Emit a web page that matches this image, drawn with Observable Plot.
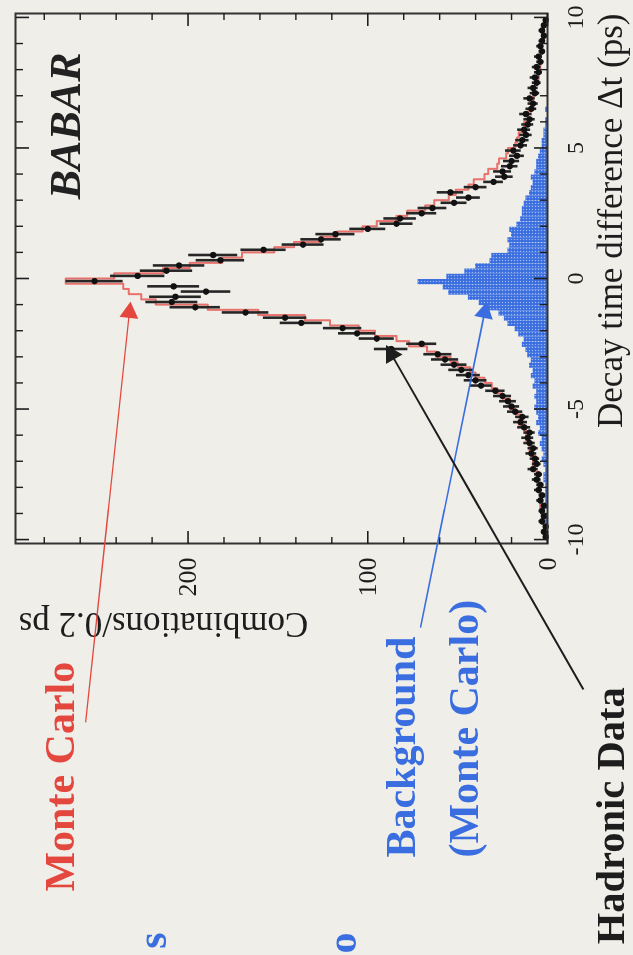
<!DOCTYPE html>
<html>
<head>
<meta charset="utf-8">
<script src="https://cdn.jsdelivr.net/npm/d3@7"></script>
<script src="https://cdn.jsdelivr.net/npm/@observablehq/plot@0.6"></script>
<style>
  html, body { margin: 0; padding: 0; width: 633px; height: 955px; overflow: hidden; background: #efeee9; }
  #rot { position: absolute; left: 0; top: 0; width: 955px; height: 633px;
         transform-origin: 0 0; transform: translateY(955px) rotate(-90deg); }
  #rot svg { display: block; filter: blur(0.65px); }
</style>
</head>
<body>
<div id="rot"></div>
<script>
// ---- Data ----
// Bin centres of Δt (ps), 0.2 ps bins from -10 to 10
const binCenters = d3.range(100).map(i => Math.round((-9.9 + 0.2 * i) * 10) / 10);

// Hadronic data: combinations per 0.2 ps
const dataCounts = [
  1,2,1,3,2,3,2,4,3,5,
  4,6,5,8,6,7,9,8,10,11,
  10,13,15,14,18,20,22,25,29,37,
  40,44,48,52,57,61,87,70,95,106,
  114,137,146,168,196,209,207,190,208,252,
  228,212,205,182,186,158,136,126,118,100,
  84,82,70,64,52,44,54,40,30,24,
  25,21,20,17,19,15,14,12,13,11,
  10,12,9,8,10,7,8,6,7,5,
  6,4,5,3,4,3,2,3,2,1
];

// Monte Carlo (signal + background)
const mcCounts = [
  1,2,2,3,2,3,4,3,4,5,
  5,6,5,7,8,7,9,10,10,12,
  12,13,16,15,18,21,21,25,28,31,
  35,40,43,50,54,62,67,77,84,96,
  105,121,135,161,189,218,226,233,236,268,
  241,214,199,181,170,152,141,126,117,103,
  95,84,78,68,63,55,51,44,41,35,
  33,28,27,23,22,18,17,16,13,13,
  11,11,9,9,8,7,7,6,5,5,
  4,4,4,3,3,3,2,2,2,2
];

// Background (Monte Carlo)
const bgCounts = [
  0,1,0,1,1,0,1,1,2,1,
  1,2,2,1,2,3,2,3,4,3,
  5,4,6,5,6,7,6,7,6,8,
  7,9,8,10,9,11,12,14,13,16,
  18,22,24,27,33,38,44,55,58,72,
  56,46,40,32,31,22,21,22,20,21,
  17,15,14,14,13,12,10,9,8,9,
  7,6,6,5,4,3,3,2,2,1,
  1,0,1,0,0,0,0,0,0,0,
  0,0,0,0,0,0,0,0,0,0
];

// Tick values / labels
const dtMajorTicks = [-10, -5, 0, 5, 10];
const dtMinorTicks = [-9,-8,-7,-6,-4,-3,-2,-1,1,2,3,4,6,7,8,9];
const countMajorTicks = [0, 100, 200];
const countMinorTicks = [20,40,60,80,120,140,160,180,220,240,260,280];

const xTitle = "Decay time difference Δt (ps)";
const yTitle = "Combinations/0.2 ps";

// ---- Build table ----
const bins = binCenters.map((t, i) => ({t, n: dataCounts[i], mc: mcCounts[i], bg: bgCounts[i]}));
const halfBin = 0.1;

// ---- Layout / annotation configuration ----
const RED = "#e4473d", BLUE = "#3a6ee0", INK = "#1d1d1d";
const W = 955, H = 633, mL = 411, mR = 14, mT = 15, mB = 86;
const xDomain = [-10.15, 10.15], yDomain = [0, 296];

const labelsStart = [
  {text: "Monte Carlo", t: -23.48, c: 263.2, color: RED},
  {text: "Background\n(Monte Carlo)", t: -22.18, c: 38.4, color: BLUE}
];
const labelsEnd = [
  {text: "s", t: -25.05, c: 212.0, color: BLUE},
  {text: "o", t: -25.05, c: 106.8, color: BLUE}
];
const labelData = [{text: "Hadronic Data", t: -15.66, c: -42.6, color: INK}];
const arrows = [
  {t1: -17.0, c1: 257, t2: -1.30, c2: 232.6, color: RED, w: 1.3},
  {t1: -13.37, c1: 70.7, t2: -1.30, c2: 35, color: BLUE, w: 1.6},
  {t1: -15.74, c1: -20, t2: -2.91, c2: 86.8, color: INK, w: 2}
];
// arrow head orientation in screen space
const sx = Plot.scale({x: {domain: xDomain, range: [mL, W - mR]}});
const sy = Plot.scale({y: {domain: yDomain, range: [H - mB, mT]}});
arrows.forEach(a => {
  const dx = sx.apply(a.t2) - sx.apply(a.t1);
  const dy = sy.apply(a.c2) - sy.apply(a.c1);
  a.angle = Math.atan2(dx, -dy) * 180 / Math.PI;
});

const serif = "Liberation Serif, Times New Roman, serif";
const fmt = d => d < 0 ? "-" + (-d) : String(d);
const annot = {fontSize: 42, fontWeight: "bold", fontFamily: serif, lineAnchor: "bottom", lineHeight: 1.52};

const chart = Plot.plot({
  width: W, height: H,
  marginLeft: mL, marginRight: mR, marginTop: mT, marginBottom: mB,
  style: {background: "transparent", fontFamily: serif, color: INK, overflow: "visible"},
  x: {domain: xDomain, label: null},
  y: {domain: yDomain, label: null},
  marks: [
    // background histogram
    Plot.rect(bins, {x1: d => d.t - halfBin, x2: d => d.t + halfBin, y1: 0, y2: "bg", fill: BLUE}),
    // Monte Carlo histogram
    Plot.lineY(bins, {x: "t", y: "mc", curve: "step", stroke: "#e8716c", strokeWidth: 2}),
    // data with error bars
    Plot.ruleX(bins, {x: "t", y1: d => Math.max(0, d.n - Math.sqrt(d.n)), y2: d => d.n + Math.sqrt(d.n), stroke: "#262626", strokeWidth: 2.6}),
    Plot.ruleY(bins, {y: "n", x1: d => d.t - halfBin, x2: d => d.t + halfBin, stroke: "#262626", strokeWidth: 1.6}),
    Plot.dot(bins, {x: "t", y: "n", r: 3.1, fill: "#111", stroke: null}),
    // frame and axes
    Plot.frame({stroke: "#333", strokeWidth: 2}),
    Plot.axisX({anchor: "bottom", ticks: dtMajorTicks, tickSize: 0, tickPadding: 18, fontSize: 24, tickFormat: fmt, label: null}),
    Plot.axisX({anchor: "bottom", ticks: dtMajorTicks, tickSize: -13, tickFormat: () => "", label: null, strokeWidth: 1.6}),
    Plot.axisX({anchor: "bottom", ticks: dtMinorTicks, tickSize: -7, tickFormat: () => "", label: null, strokeWidth: 1.4}),
    Plot.axisX({anchor: "top", ticks: dtMajorTicks, tickSize: -13, tickFormat: () => "", label: null, strokeWidth: 1.6}),
    Plot.axisX({anchor: "top", ticks: dtMinorTicks, tickSize: -7, tickFormat: () => "", label: null, strokeWidth: 1.4}),
    Plot.axisY({anchor: "left", ticks: countMajorTicks, tickSize: 0, tickPadding: 14, fontSize: 26, tickFormat: fmt, label: null}),
    Plot.axisY({anchor: "left", ticks: countMajorTicks, tickSize: -13, tickFormat: () => "", label: null, strokeWidth: 1.6}),
    Plot.axisY({anchor: "left", ticks: countMinorTicks, tickSize: -7, tickFormat: () => "", label: null, strokeWidth: 1.4}),
    Plot.axisY({anchor: "right", ticks: countMajorTicks, tickSize: -13, tickFormat: () => "", label: null, strokeWidth: 1.6}),
    Plot.axisY({anchor: "right", ticks: countMinorTicks, tickSize: -7, tickFormat: () => "", label: null, strokeWidth: 1.4}),
    // axis titles
    Plot.text([xTitle], {x: xDomain[1], y: -41.2, text: d => d, textAnchor: "end", lineAnchor: "bottom", fontSize: 35, fontFamily: serif, fill: INK}),
    Plot.text([yTitle], {x: -13.75, y: 294.3, text: d => d, rotate: -90, textAnchor: "end", lineAnchor: "top", fontSize: 35, fontFamily: serif, fill: INK}),
    // BABAR logo
    Plot.text(["BABAR"], {x: 8.656, y: 259.9, text: d => d, textAnchor: "end", lineAnchor: "bottom", fontSize: 44, fontWeight: "bold", fontStyle: "italic", fontFamily: serif, fill: "#222"}),
    // annotations
    Plot.link(arrows, {x1: "t1", y1: "c1", x2: "t2", y2: "c2", stroke: "color", strokeWidth: "w"}),
    Plot.dot(arrows, {x: "t2", y: "c2", symbol: "triangle", r: 7, rotate: "angle", fill: "color", stroke: null}),
    Plot.text(labelsStart, {x: "t", y: "c", text: "text", fill: "color", textAnchor: "start", ...annot}),
    Plot.text(labelsEnd, {x: "t", y: "c", text: "text", fill: "color", textAnchor: "end", ...annot}),
    Plot.text(labelData, {x: "t", y: "c", text: "text", fill: "color", textAnchor: "end", ...annot, fontSize: 40.5})
  ]
});

// dotted (half-tone) texture for the background histogram, as in the printed figure
const ns = "http://www.w3.org/2000/svg";
const defs = document.createElementNS(ns, "defs");
defs.innerHTML = `<pattern id="bgdots" width="3" height="3" patternUnits="userSpaceOnUse">
  <rect width="3" height="3" fill="${BLUE}"/><circle cx="1.5" cy="1.5" r="0.7" fill="#9db8ef"/></pattern>`;
chart.insertBefore(defs, chart.firstChild);
const rectGroup = chart.querySelector('g[aria-label="rect"]');
if (rectGroup) rectGroup.setAttribute("fill", "url(#bgdots)");

document.getElementById("rot").appendChild(chart);
</script>
</body>
</html>
